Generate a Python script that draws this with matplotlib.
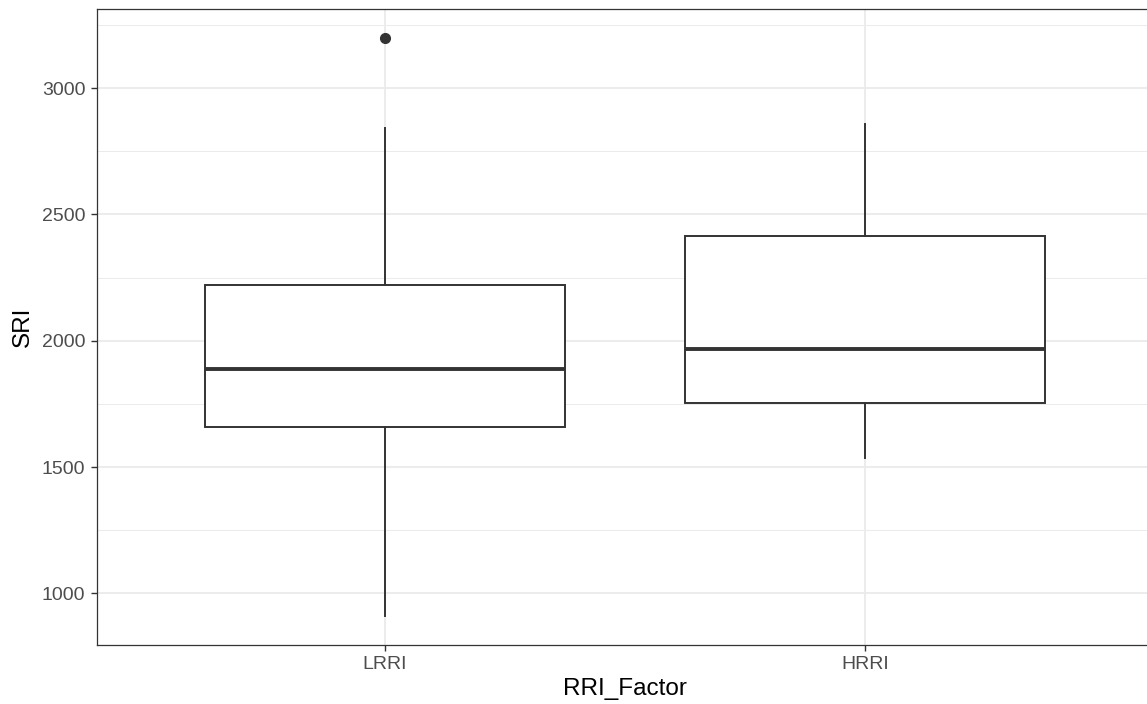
import numpy as np
import matplotlib
matplotlib.use("Agg")
import matplotlib.pyplot as plt

# five-number summaries
groups = ["LRRI", "HRRI"]
whisker_low = [911, 1538]
q1 = [1660, 1753]
median = [1890, 1968]
q3 = [2222, 2413]
whisker_high = [2842, 2856]
outliers = [[3200], []]

plt.rcParams['font.family'] = ['Liberation Sans', 'DejaVu Sans']

W, H = 1147, 704
fig = plt.figure(figsize=(W / 100, H / 100), dpi=100)
left, bottom, top = 97, 645, 9
unit = 480  # px per category
ax = fig.add_axes([left / W, (H - bottom) / H, 2.2 * unit / W, (bottom - top) / H])

stats = []
for i, g in enumerate(groups):
    stats.append(dict(label=g, whislo=whisker_low[i], q1=q1[i], med=median[i],
                      q3=q3[i], whishi=whisker_high[i], fliers=outliers[i]))

dark = '#333333'
ax.bxp(stats, positions=[1, 2], widths=0.75, showcaps=False, patch_artist=True,
       boxprops=dict(facecolor='white', edgecolor=dark, linewidth=1.4),
       medianprops=dict(color=dark, linewidth=2.8, solid_capstyle='butt'),
       whiskerprops=dict(color=dark, linewidth=1.4),
       flierprops=dict(marker='o', markerfacecolor=dark, markeredgecolor=dark, markersize=7),
       zorder=3)

ax.set_xlim(0.4, 2.6)
ax.set_ylim(796, 3313)
ax.set_xticks([1, 2])
ax.set_xticklabels(groups)
ax.set_yticks([1000, 1500, 2000, 2500, 3000])
ax.set_yticks([1250, 1750, 2250, 2750, 3250], minor=True)

ax.grid(True, which='major', color='#EBEBEB', linewidth=1.3, zorder=0)
ax.grid(True, which='minor', axis='y', color='#EBEBEB', linewidth=0.7, zorder=0)
ax.set_axisbelow(True)

for s in ax.spines.values():
    s.set_color('#333333')
    s.set_linewidth(0.9)

ax.tick_params(axis='both', which='major', length=4.3, width=1, color='#333333',
               labelcolor='#4D4D4D', labelsize=14)
ax.tick_params(axis='y', pad=4)
ax.tick_params(axis='x', pad=3.5)
ax.tick_params(axis='both', which='minor', length=0)

ax.set_xlabel("RRI_Factor", fontsize=17.5, color='black', labelpad=3.5)
ax.set_ylabel("SRI", fontsize=17.5, color='black', labelpad=6)

fig.savefig("out.png", dpi=100)
